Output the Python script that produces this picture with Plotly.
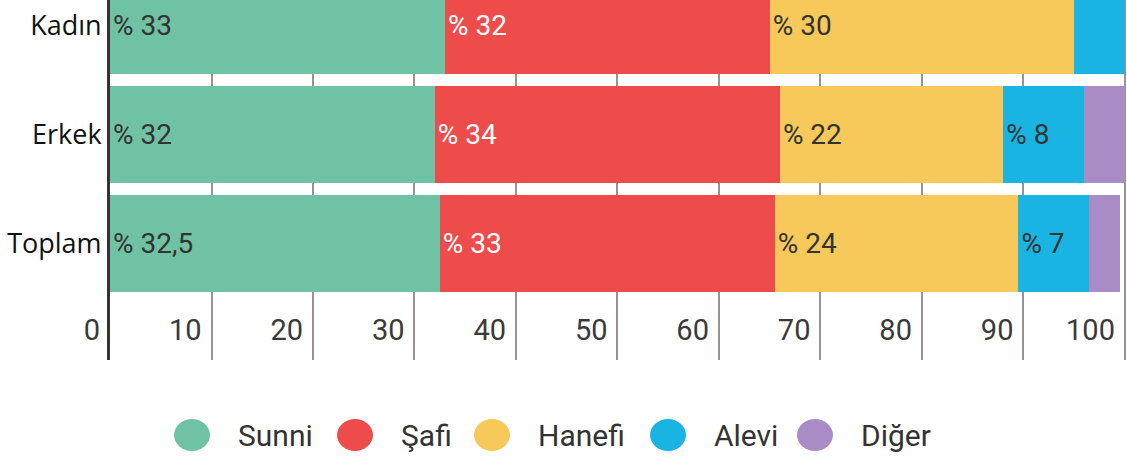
"""Mezhep dagilimi - yatay yigilmis cubuk grafik"""
import plotly.graph_objects as go

# data
groups = ["Kadın", "Erkek", "Toplam"]
series_names = ["Sunni", "Şafi", "Hanefi", "Alevi", "Diğer"]
sunni = [33, 32, 32.5]
safi = [32, 34, 33]
hanefi = [30, 22, 24]
alevi = [5, 8, 7]
diger = [0, 4, 3]
sunni_labels = ["% 33", "% 32", "% 32,5"]
safi_labels = ["% 32", "% 34", "% 33"]
hanefi_labels = ["% 30", "% 22", "% 24"]
alevi_labels = ["", "% 8", "% 7"]
diger_labels = ["", "", ""]
x_ticks = [0, 10, 20, 30, 40, 50, 60, 70, 80, 90, 100]

colors = ["#70c2a4", "#ee4b4b", "#f6c95a", "#1ab4e3", "#a98bc5"]
text_colors = ["#333333", "#ffffff", "#333333", "#333333", "#333333"]
values = [sunni, safi, hanefi, alevi, diger]
labels = [sunni_labels, safi_labels, hanefi_labels, alevi_labels, diger_labels]

W, H = 1127, 458
L, B = 110, 98  # margins (px)

fig = go.Figure()
for name, vals, txt, col, tcol in zip(series_names, values, labels, colors, text_colors):
    fig.add_trace(
        go.Bar(
            y=groups,
            x=vals,
            name=name,
            orientation="h",
            marker={"color": col, "line": {"width": 0}},
            text=txt,
            textposition="inside",
            insidetextanchor="start",
            textangle=0,
            insidetextfont={"family": "Roboto", "size": 28, "color": tcol},
            hoverinfo="skip",
            showlegend=False,
        )
    )

# hand drawn legend with big round markers
def px_x(px):
    return (px - L) / (W - L)


def px_y(py):
    return (H - B - py) / (H - B)


legend_text_x = [236, 399, 536, 712, 859]
legend_y = 435
shapes = []
annotations = []
for name, col, tx in zip(series_names, colors, legend_text_x):
    shapes.append(
        dict(
            type="circle",
            xref="paper",
            yref="paper",
            xsizemode="pixel",
            ysizemode="pixel",
            xanchor=px_x(tx - 44),
            yanchor=px_y(legend_y),
            x0=-18,
            x1=18,
            y0=-16,
            y1=16,
            fillcolor=col,
            line={"width": 0},
        )
    )
    annotations.append(
        dict(
            text=name,
            xref="paper",
            yref="paper",
            x=px_x(tx),
            y=px_y(legend_y),
            xanchor="left",
            yanchor="middle",
            showarrow=False,
            font={"family": "Roboto", "size": 30, "color": "#333333"},
        )
    )

fig.update_layout(
    width=W,
    height=H,
    margin={"l": L, "r": 0, "t": 0, "b": B},
    barmode="stack",
    bargap=0.11,
    plot_bgcolor="white",
    paper_bgcolor="white",
    font={"family": "Roboto"},
    shapes=shapes,
    annotations=annotations,
)
fig.update_xaxes(
    range=[0, 100.2],
    tickvals=x_ticks,
    ticktext=[str(t) for t in x_ticks],
    ticklabelposition="inside left",
    ticklabeloverflow="allow",
    ticklabelshift=-10,
    ticklabelstandoff=8,
    tickfont={"family": "Roboto", "size": 29, "color": "#3a3a3a"},
    showgrid=True,
    gridcolor="#9c9090",
    gridwidth=1.5,
    zeroline=False,
    showline=False,
    ticks="",
    automargin=False,
)
fig.update_yaxes(
    categoryorder="array",
    categoryarray=["Toplam", "Erkek", "Kadın"],
    range=[-1.069, 2.234],
    showline=True,
    linecolor="#333333",
    linewidth=3,
    showgrid=False,
    zeroline=False,
    ticks="",
    tickfont={"family": "Open Sans", "size": 27, "color": "#111111"},
    automargin=False,
)

# page body has an 8px default margin; drop it so the figure fills the window
fig.write_html(
    "out.html",
    config={"displayModeBar": False},
    post_script="document.body.style.margin='0';",
)
